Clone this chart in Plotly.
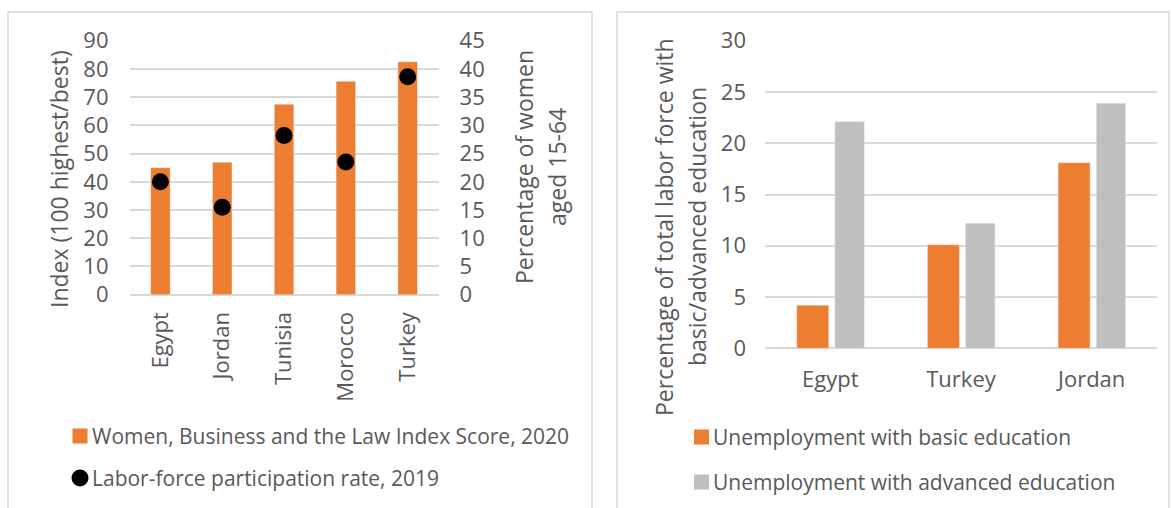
import plotly.graph_objects as go

# ---- data ----
countries_left = ["Egypt", "Jordan", "Tunisia", "Morocco", "Turkey"]
wbl_index_2020 = [45.0, 46.9, 67.5, 75.6, 82.5]
lfp_rate_2019 = [20.0, 15.5, 28.2, 23.5, 38.6]

countries_right = ["Egypt", "Turkey", "Jordan"]
unemp_basic = [4.2, 10.1, 18.1]
unemp_advanced = [22.1, 12.2, 23.9]

names_left = ["Women, Business and the Law Index Score, 2020",
              "Labor-force participation rate, 2019"]
names_right = ["Unemployment with basic education",
               "Unemployment with advanced education"]

W, H = 1173, 508
ORANGE = "#ED7D31"
GRAY = "#BFBFBF"
TXT = "#595959"
GRID = "#D9D9D9"
FONT = "Open Sans"
FS_TICK = 22
FS_TITLE = 23
FS_LEG = 21


def px(x):
    return x / W


def py(y):
    return 1 - y / H


fig = go.Figure()

# left panel: index bars + participation dots
fig.add_trace(go.Bar(
    x=countries_left, y=wbl_index_2020, marker_color=ORANGE,
    name=names_left[0], width=0.316,
    xaxis="x", yaxis="y", showlegend=False,
))
fig.add_trace(go.Scatter(
    x=countries_left, y=lfp_rate_2019, mode="markers",
    marker=dict(color="black", size=17),
    name=names_left[1],
    xaxis="x", yaxis="y2", showlegend=False,
))

# right panel: unemployment by education, two bars per country
fig.add_trace(go.Bar(
    x=countries_right, y=unemp_basic, marker_color=ORANGE,
    name=names_right[0], width=0.245, offset=-0.257,
    xaxis="x2", yaxis="y3", showlegend=False,
))
fig.add_trace(go.Bar(
    x=countries_right, y=unemp_advanced, marker_color=GRAY,
    name=names_right[1], width=0.225, offset=0.035,
    xaxis="x2", yaxis="y3", showlegend=False,
))

tick_font = dict(family=FONT, size=FS_TICK, color=TXT)

fig.update_layout(
    width=W, height=H,
    margin=dict(l=0, r=0, t=0, b=0),
    paper_bgcolor="white", plot_bgcolor="white",
    font=dict(family=FONT, size=FS_TICK, color=TXT),
    xaxis=dict(domain=[px(129.5), px(438.6)], anchor="y", automargin=False,
               tickangle=-90, tickfont=tick_font, showgrid=False,
               showline=False, ticks="", ticklabelstandoff=12),
    yaxis=dict(domain=[py(294.7), py(40.7)], anchor="x", automargin=False,
               range=[0, 90], dtick=10, tickfont=tick_font,
               showgrid=True, gridcolor=GRID, gridwidth=2,
               zeroline=True, zerolinecolor=GRID, zerolinewidth=2,
               ticks="", ticklabelstandoff=20),
    yaxis2=dict(overlaying="y", side="right", anchor="x", automargin=False,
                range=[0, 45], dtick=5, tickfont=tick_font,
                showgrid=False, zeroline=False, ticks="",
                ticklabelstandoff=20),
    xaxis2=dict(domain=[px(765), px(1157)], anchor="y3", automargin=False,
                tickfont=tick_font, showgrid=False, showline=False,
                ticks="", ticklabelstandoff=16),
    yaxis3=dict(domain=[py(348.3), py(40.7)], anchor="x2", automargin=False,
                range=[0, 30], dtick=5, tickfont=tick_font,
                showgrid=True, gridcolor=GRID, gridwidth=2,
                zeroline=True, zerolinecolor=GRID, zerolinewidth=2,
                ticks="", ticklabelstandoff=18),
)

# axis titles
titles = [
    ("Index (100 highest/best)", 59, 179),
    ("Percentage of women", 524, 167),
    ("aged 15-64", 557, 167),
    ("Percentage of total labor force with", 664, 227),
    ("basic/advanced education", 697, 227),
]
for text, x, y in titles:
    fig.add_annotation(text=text, x=px(x), y=py(y), xref="paper", yref="paper",
                       showarrow=False, textangle=-90,
                       font=dict(family=FONT, size=FS_TITLE, color=TXT),
                       xanchor="center", yanchor="middle")

# legend entries: key glyph + label
def legend_entry(kind, color, label, x_key, y_mid, x_text, s=7.5):
    fig.add_shape(type=kind, xref="paper", yref="paper",
                  x0=px(x_key - s), x1=px(x_key + s),
                  y0=py(y_mid + s), y1=py(y_mid - s),
                  fillcolor=color, line=dict(width=0))
    fig.add_annotation(text=label, x=px(x_text), y=py(y_mid),
                       xref="paper", yref="paper", showarrow=False,
                       xanchor="left", yanchor="middle",
                       font=dict(family=FONT, size=FS_LEG, color=TXT))


legend_entry("rect", ORANGE, names_left[0], 80, 436, 90)
legend_entry("circle", "black", names_left[1], 80, 478, 90, s=8.5)
legend_entry("rect", ORANGE, names_right[0], 701.5, 437, 711)
legend_entry("rect", GRAY, names_right[1], 701.5, 482, 711)

# panel frames
for x0, x1 in [(8, 592), (617, 1169)]:
    fig.add_shape(type="rect", xref="paper", yref="paper",
                  x0=px(x0), x1=px(x1), y0=py(515), y1=py(12),
                  line=dict(color=GRID, width=1.5), layer="below")

fig.write_html("out.html")
